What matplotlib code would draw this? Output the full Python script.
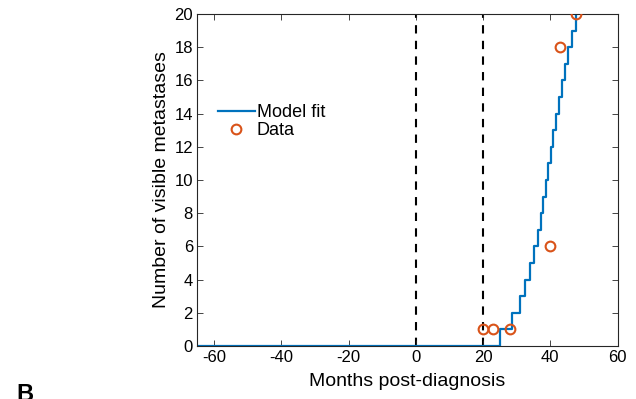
import matplotlib.pyplot as plt
import numpy as np

plt.rcParams['font.family'] = ['Liberation Sans', 'DejaVu Sans']
plt.rcParams['axes.unicode_minus'] = False

# model fit: step times (months) and metastasis counts
fit_t = [-65, 25.1, 28.6, 31.0, 32.5, 33.9, 35.1, 36.3, 37.2, 37.9, 38.7,
         39.3, 40.1, 40.7, 41.6, 42.5, 43.4, 44.4, 45.3, 46.6, 47.7]
fit_n = [0, 1, 2, 3, 4, 5, 6, 7, 8, 9, 10,
         11, 12, 13, 14, 15, 16, 17, 18, 19, 20]

# observed data
data_t = [20.0, 23.0, 28.0, 40.0, 42.8, 47.6]
data_n = [1, 1, 1, 6, 18, 20]

# dashed reference times
vlines = [0, 20]

xticks = [-60, -40, -20, 0, 20, 40, 60]
yticks = list(range(0, 21, 2))

blue = (0, 0.447, 0.741)
orange = (0.85, 0.325, 0.098)
axcol = (0.15, 0.15, 0.15)

fig = plt.figure(figsize=(6.36, 3.99), dpi=100)
ax = fig.add_axes([0.310, 0.133, 0.661, 0.832])

for v in vlines:
    ax.axvline(v, color='k', ls=(0, (4, 3.5)), lw=1.5, zorder=1)

ax.step(fit_t, fit_n, where='post', color=blue, lw=1.6, label='Model fit', zorder=2)
ax.plot(data_t, data_n, 'o', mfc='none', mec=orange, mew=1.5, ms=7, label='Data', zorder=3)

ax.set_xlim(-65, 60)
ax.set_ylim(0, 20)
ax.set_xticks(xticks)
ax.set_yticks(yticks)
ax.tick_params(direction='in', top=True, right=True, length=4, width=0.6,
               colors=axcol, labelsize=12, labelcolor='k', pad=3)
for s in ax.spines.values():
    s.set_color(axcol)
    s.set_linewidth(0.8)

ax.set_xlabel('Months post-diagnosis', fontsize=14, labelpad=6)
ax.set_ylabel('Number of visible metastases', fontsize=14, labelpad=3)

ax.legend(loc='upper left', bbox_to_anchor=(0.049, 0.728), frameon=False,
          fontsize=13, handlelength=2.05, handletextpad=0.12, labelspacing=0.05,
          borderaxespad=0, borderpad=0)

fig.text(16 / 636, 1 - 383 / 399, 'B', fontsize=17, fontweight='bold', va='top')

fig.savefig('out.png', dpi=100)
